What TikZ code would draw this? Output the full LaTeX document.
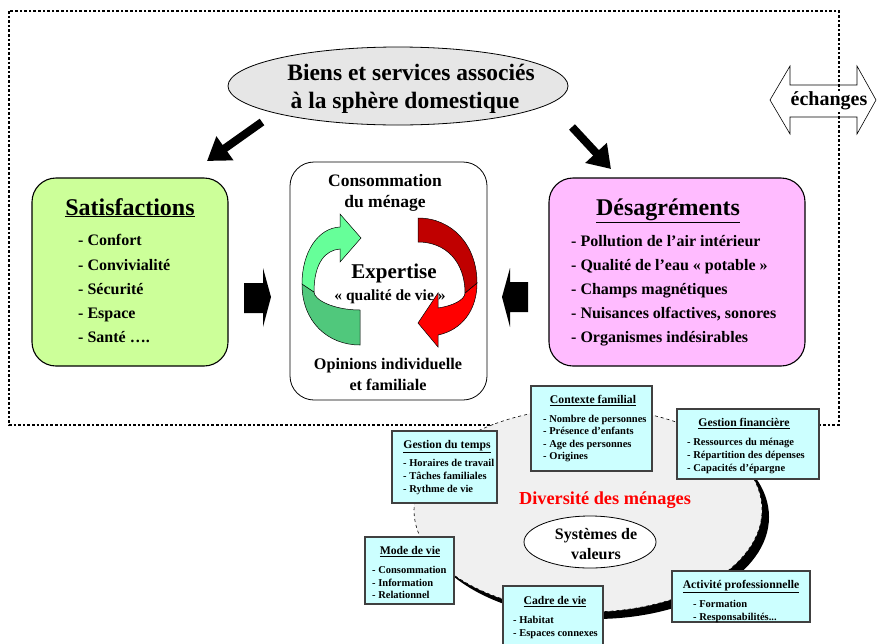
\documentclass[tikz,border=0pt]{standalone}
\usepackage{fontspec}
\setmainfont{Liberation Serif}
\usetikzlibrary{arrows.meta,shapes.geometric}
\definecolor{satfill}{HTML}{CCFF99}
\definecolor{desfill}{HTML}{FFBBFF}
\definecolor{topfill}{HTML}{E6E6E6}
\definecolor{ellfill}{HTML}{F0F0F0}
\definecolor{cyanfill}{HTML}{CCFFFF}
\definecolor{cyanedge}{HTML}{404040}
\definecolor{greenlight}{HTML}{66FF99}
\definecolor{greendark}{HTML}{50C87C}
\definecolor{redlight}{HTML}{FF0000}
\definecolor{reddark}{HTML}{C00000}
\newcommand\fsz[2]{\fontsize{#1}{#2}\selectfont\bfseries}
\begin{document}
\begin{tikzpicture}[x=1pt,y=-1pt,
  bigbox/.style={draw=black,line width=1.1pt,rounded corners=24pt},
  cbox/.style={draw=cyanedge,fill=cyanfill,line width=1.4pt},
  txt/.style={inner sep=0pt,anchor=base},
  itm/.style={inner sep=0pt,anchor=base west},
  bigarrow/.style={line width=8pt,-{Triangle[width=28pt,length=22pt]}},
  block/.style={fill=black}]
\useasboundingbox (0,0) rectangle (877,643);

% dotted frame
\draw[line width=2.8pt,dash pattern=on 2.6pt off 2pt] (9,11) rectangle (839,425);

% top ellipse
\node[ellipse,draw,line width=0.8pt,fill=topfill,minimum width=340,minimum height=78] (biens) at (398,86) {};
\node[txt] at (411,80) {\fsz{23.5}{26}Biens et services associés};
\node[txt] at (405,108) {\fsz{23.5}{26}à la sphère domestique};

% echanges arrow
\draw[line width=0.6pt] (770,100) -- (790,66) -- (790,85) -- (857,85) -- (857,66) -- (876,100)
  -- (857,134) -- (857,117) -- (790,117) -- (790,134) -- cycle;
\node[fill=white,inner sep=0.5pt] (ech) at (829,101) {\fsz{20}{22}échanges};

% black arrows from ellipse
\coordinate (lt) at (262,122);
\coordinate (lh) at (207,161);
\coordinate (rt) at (572,127);
\coordinate (rh) at (611,169);
\draw[bigarrow] (lt) -- (lh);
\draw[bigarrow] (rt) -- (rh);

% Satisfactions box
\draw[bigbox,fill=satfill] (32,178) rectangle (228,366);
\node[txt] (sat) at (130,215) {\fsz{24}{28}\underline{Satisfactions}};
\node[itm] at (78,245.5) {\fsz{16}{18}- Confort};
\node[itm] at (78,270.5) {\fsz{16}{18}- Convivialité};
\node[itm] at (78,294.5) {\fsz{16}{18}- Sécurité};
\node[itm] at (78,318.5) {\fsz{16}{18}- Espace};
\node[itm] at (78,342.5) {\fsz{16}{18}- Santé ….};

% Desagrements box
\draw[bigbox,fill=desfill] (549,178) rectangle (805,366);
\node[txt] (des) at (668,215) {\fsz{24}{28}\underline{Désagréments}};
\node[itm] at (571,246.5) {\fsz{16}{18}- Pollution de l’air intérieur};
\node[itm] at (571,270.5) {\fsz{16}{18}- Qualité de l’eau «~potable~»};
\node[itm] at (571,294.5) {\fsz{16}{18}- Champs magnétiques};
\node[itm] at (571,318.5) {\fsz{16}{18}- Nuisances olfactives, sonores};
\node[itm] at (571,342.5) {\fsz{16}{18}- Organismes indésirables};

% centre box
\draw[bigbox,fill=white,line width=0.8pt] (290,162) rectangle (487,400);
\node[txt] at (385,186) {\fsz{17.5}{20}Consommation};
\node[txt] at (385,207) {\fsz{17.5}{20}du ménage};
\node[txt] (exp) at (394,278) {\fsz{21}{24}Expertise};
\node[txt] at (390,300.5) {\fsz{15.5}{18}«~qualité de vie~»};
\node[txt] at (388,369.5) {\fsz{16.2}{19}Opinions individuelle};
\node[txt] at (388,390.5) {\fsz{16.2}{19}et familiale};

% circular arrows
\draw[fill=greendark,line width=0.5pt] (302,284) .. controls (302,322) and (328,345) .. (360,345)
  -- (360,310) .. controls (334,310) and (314,300) .. (314,292) -- cycle;
\draw[fill=greenlight,line width=0.5pt] (302,284) .. controls (302,252) and (318,228) .. (340,227)
  -- (340,214) -- (361,238) -- (340,262) -- (340,249) .. controls (326,250) and (314,262) .. (314,292) -- cycle;
\draw[fill=redlight,line width=0.5pt] (477,283) .. controls (477,310) and (462,330) .. (438,335)
  -- (438,347) -- (418,323) -- (438,293) -- (438,308) .. controls (452,306) and (465,300) .. (465,293) -- cycle;
\draw[fill=reddark,line width=0.5pt] (418,218) .. controls (452,218) and (477,245) .. (477,283)
  -- (465,293) .. controls (465,262) and (446,242) .. (418,242) -- cycle;

% block arrows
\fill[block] (244,283) -- (263,283) -- (263,268) -- (271,297) -- (263,327) -- (263,313) -- (244,313) -- cycle;
\fill[block] (528,282) -- (510,282) -- (510,268) -- (502,297) -- (510,327) -- (510,312) -- (528,312) -- cycle;

% bottom ellipse
\node[ellipse,fill=black,minimum width=348,minimum height=204,inner sep=0] (shadow) at (595,517) {};
\node[ellipse,fill=ellfill,draw,dashed,line width=0.6pt,minimum width=348,minimum height=204,inner sep=0] (div) at (588,510) {};
\node[txt,text=red] at (605,504.5) {\fsz{18.3}{21}Diversité des ménages};
\node[ellipse,draw,fill=white,line width=0.8pt,minimum width=132,minimum height=52,inner sep=0] (sys) at (590,542) {};
\node[txt] at (596,539.5) {\fsz{16}{19}Systèmes de};
\node[txt] at (596,559.5) {\fsz{16}{19}valeurs};

% cyan boxes
% Contexte familial
\draw[cbox] (531,386) rectangle (652,471);
\node[txt] (ctx) at (593,403.5) {\fsz{11.7}{13}\underline{Contexte familial}};
\node[itm] at (543,422) {\fsz{10.5}{12}- Nombre de personnes};
\node[itm] at (543,434.5) {\fsz{10.5}{12}- Présence d'enfants};
\node[itm] at (543,447) {\fsz{10.5}{12}- Age des personnes};
\node[itm] at (543,459.5) {\fsz{10.5}{12}- Origines};
% Gestion financiere
\draw[cbox] (677,409) rectangle (819,479);
\node[txt] (fin) at (744,426.5) {\fsz{11.7}{13}\underline{Gestion financière}};
\node[itm] at (687,445) {\fsz{10.5}{12}- Ressources du ménage};
\node[itm] at (687,458) {\fsz{10.5}{12}- Répartition des dépenses};
\node[itm] at (687,471) {\fsz{10.5}{12}- Capacités d’épargne};
% Gestion du temps
\draw[cbox] (392,431) rectangle (497,503);
\node[txt] (tps) at (447,448.5) {\fsz{11.7}{13}\underline{Gestion du temps}};
\node[itm] at (403,466) {\fsz{10.5}{12}- Horaires de travail};
\node[itm] at (403,479) {\fsz{10.5}{12}- Tâches familiales};
\node[itm] at (403,492) {\fsz{10.5}{12}- Rythme de vie};
% Mode de vie
\draw[cbox] (365,537) rectangle (454,604);
\node[txt] (mode) at (410,554.5) {\fsz{11.7}{13}\underline{Mode de vie}};
\node[itm] at (372,573) {\fsz{10.5}{12}- Consommation};
\node[itm] at (372,586) {\fsz{10.5}{12}- Information};
\node[itm] at (372,598) {\fsz{10.5}{12}- Relationnel};
% Cadre de vie
\draw[cbox] (503,586) rectangle (603,646);
\node[txt] (cadre) at (555,604.5) {\fsz{11.7}{13}\underline{Cadre de vie}};
\node[itm] at (513,623) {\fsz{10.5}{12}- Habitat};
\node[itm] at (513,636) {\fsz{10.5}{12}- Espaces connexes};
% Activite professionnelle
\draw[cbox] (672,571) rectangle (810,622);
\node[txt] (act) at (741,588.5) {\fsz{11.7}{13}\underline{Activité professionnelle}};
\node[itm] at (693,607) {\fsz{10.5}{12}- Formation};
\node[itm] at (693,620) {\fsz{10.5}{12}- Responsabilités...};
\end{tikzpicture}
\end{document}
